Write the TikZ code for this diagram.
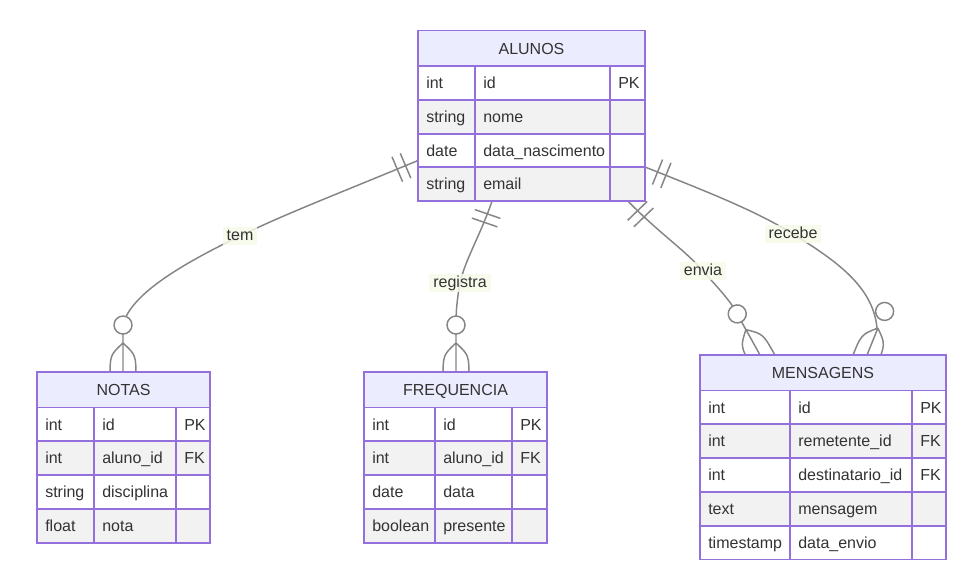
\documentclass[tikz,border=0pt]{standalone}
\usepackage{fontspec}
\setmainfont{Liberation Sans}
\usetikzlibrary{calc}
\pgfdeclarelayer{back}
\pgfsetlayers{back,main}
\definecolor{erpurple}{HTML}{9370DB}
\definecolor{headlavender}{HTML}{ECECFF}
\definecolor{rowgray}{HTML}{F2F2F2}
\definecolor{edgegray}{HTML}{858585}
\definecolor{inkgray}{HTML}{333333}
\definecolor{labelbg}{HTML}{F6FAE8}

\begin{document}
\begin{tikzpicture}[x=0.75pt,y=-0.75pt,font=\fontsize{12}{14.4}\selectfont,
  every node/.style={text=inkgray},
  relline/.style={draw=edgegray,line width=1.1pt},
  rellabel/.style={fill=labelbg,fill opacity=0.85,text opacity=1,inner xsep=3pt,inner ysep=1.5pt,text height=8.6pt,text depth=2.5pt},
  cellbox/.style={draw=erpurple,line width=1.4pt},
  celltext/.style={anchor=base west,inner sep=0pt}]
  \useasboundingbox (0,0) rectangle (959,576);
  % table: name, left, top, three column widths, title, rows type/field/key
  \newcommand{\entity}[8]{%
    \coordinate (#1) at (#2,#3);
    \filldraw[cellbox,fill=headlavender] (#2,#3) rectangle ++(#4+#5+#6,35.5);
    \node[anchor=base,inner sep=0pt] (#1-title) at (#2+#4/2+#5/2+#6/2,#3+23.5) {#7};
    \foreach \ty/\fd/\ky [count=\i] in {#8} {
      \ifodd\i\relax \def\rowfill{white}\else \def\rowfill{rowgray}\fi
      \pgfmathsetmacro{\rt}{#3+35.5+33.8*(\i-1)}
      \filldraw[cellbox,fill=\rowfill] (#2,\rt) rectangle ++(#4,33.8) ++(0,-33.8) rectangle ++(#5,33.8) ++(0,-33.8) rectangle ++(#6,33.8);
      \node[celltext] (#1-\i-t) at (#2+8,\rt+22.5) {\ty};
      \node[celltext] (#1-\i-f) at (#2+#4+8,\rt+22.5) {\fd};
      \node[celltext] (#1-\i-k) at (#2+#4+#5+8,\rt+22.5) {\ky};
    }
  }
  % zero-or-more end: foot on the table edge, circle further out
  \newcommand{\zeromany}[2]{%
    \begin{scope}[shift={(#1)},rotate=#2]
      \draw[relline] (0,-29) -- (0,8)
        (0,-29) .. controls (-13,-17) .. (-13,8)
        (0,-29) .. controls (13,-17) .. (13,8);
      \draw[relline,fill=white] (0,-47) circle (9);
    \end{scope}}
  % exactly-one end: two bars across the line
  \newcommand{\onlyone}[2]{%
    \begin{scope}[shift={(#1)},rotate=#2]
      \draw[relline] (-13.5,-13.5) -- (13.5,-13.5) (-13.5,-22.5) -- (13.5,-22.5);
    \end{scope}}
  % Tables
  \entity{alunos}{418}{30.5}{57}{135}{35}{ALUNOS}{int/id/PK, string/nome/{}, date/data\_nascimento/{}, string/email/{}}
  \entity{notas}{37}{372}{57}{82}{34}{NOTAS}{int/id/PK, int/aluno\_id/FK, string/disciplina/{}, float/nota/{}}
  \entity{frequencia}{364}{372}{71}{77}{35}{FREQUENCIA}{int/id/PK, int/aluno\_id/FK, date/data/{}, boolean/presente/{}}
  \entity{mensagens}{700}{355}{90}{122}{34}{MENSAGENS}{int/id/PK, int/remetente\_id/FK, int/destinatario\_id/FK, text/mensagem/{}, timestamp/data\_envio/{}}
  % Relationship ends
  \coordinate (temA) at ($(alunos)+(0,130)$);
  \coordinate (temB) at ($(notas)+(86,0)$);
  \coordinate (regA) at ($(alunos)+(74,170.7)$);
  \coordinate (regB) at ($(frequencia)+(92,0)$);
  \coordinate (envA) at ($(alunos)+(210,170.7)$);
  \coordinate (envB) at ($(mensagens)+(60,0)$);
  \coordinate (recA) at ($(alunos)+(227,136.5)$);
  \coordinate (recB) at ($(mensagens)+(167,0)$);
  \begin{pgfonlayer}{back}
    % alunos tem notas
    \draw[relline] (temA) .. controls (330,197) and (285,214) .. (240,236) node[rellabel] (temL) {tem}
      .. controls (180,265) and (130,295) .. (123,325) -- ($(temB)+(0,-29)$);
    % alunos registra frequencia
    \draw[relline] (regA) .. controls (480,236) and (465,260) .. (460,283) node[rellabel] (regL) {registra}
      .. controls (457,300) and (456,310) .. (456,325) -- ($(regB)+(0,-29)$);
    % alunos envia mensagens
    \draw[relline] (envA) .. controls (660,234) and (685,250) .. (703,271) node[rellabel] (envL) {envia}
      .. controls (718,288) and (730,300) .. (738,315) -- ($(envB)+(-14,-25)$);
    % alunos recebe mensagens
    \draw[relline] (recA) .. controls (700,189) and (755,210) .. (793,234) node[rellabel] (recL) {recebe}
      .. controls (833,259) and (873,285) .. ($(recB)+(10,-27)$);
    \onlyone{temA}{113}
    \onlyone{regA}{161}
    \onlyone{envA}{-136}
    \onlyone{recA}{-112}
    \zeromany{temB}{0}
    \zeromany{regB}{0}
    \zeromany{envB}{29}
    \zeromany{recB}{-22}
  \end{pgfonlayer}
\end{tikzpicture}
\end{document}
